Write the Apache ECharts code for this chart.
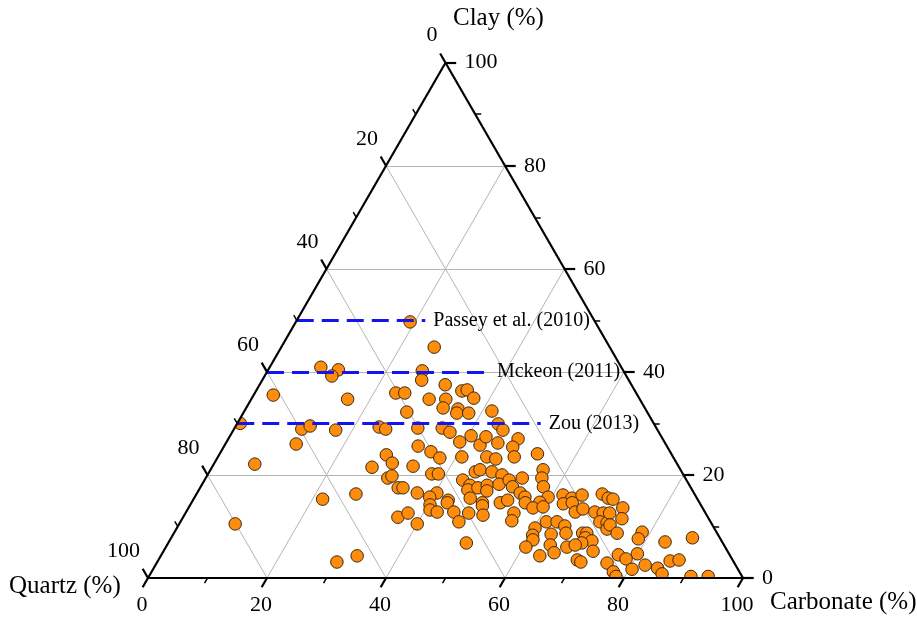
<!DOCTYPE html>
<html>
<head>
<meta charset="utf-8">
<script src="https://cdn.jsdelivr.net/npm/echarts@6/dist/echarts.min.js"></script>
<style>
  html, body { margin: 0; padding: 0; background: #ffffff; }
  #chart { width: 917px; height: 621px; }
</style>
</head>
<body>
<div id="chart"></div>
<script>
// Sample mineral compositions (%). Quartz is the remainder: 100 - carbonate - clay.
const carbonate = [
  19.2, 25.7, 8.6, 11.8, 11.3, 26.0, 26.8, 3.3, 16.2, 23.7,
  25.2, 31.2, 34.6, 35.4, 37.3, 29.9, 32.7, 33.1, 35.7, 35.9,
  37.9, 41.6, 27.4, 30.8, 34.9, 36.6, 43.9, 45.3, 0.5, 11.4,
  12.5, 17.2, 24.2, 25.5, 11.9, 28.1, 6.9, 9.4, 21.7, 26.8,
  30.2, 33.0, 26.9, 29.9, 30.6, 31.1, 33.3, 36.1, 32.6, 35.3,
  37.4, 39.2, 40.5, 42.9, 43.1, 45.7, 41.0, 45.2, 46.9, 33.7,
  37.6, 38.7, 44.7, 45.3, 47.5, 49.5, 43.4, 34.1, 37.0, 40.3,
  39.5, 42.9, 45.1, 45.2, 46.7, 48.0, 48.5, 49.9, 46.4, 48.9,
  51.9, 48.7, 48.6, 49.8, 53.4, 55.9, 56.5, 57.6, 53.2, 51.2,
  52.4, 54.3, 55.5, 59.4, 61.7, 63.5, 64.9, 68.2, 52.9, 58.5,
  69.6, 37.4, 40.0, 40.3, 40.8, 42.2, 43.0, 45.0, 46.8, 47.6,
  49.2, 50.2, 50.1, 56.1, 57.9, 59.5, 55.2, 55.6, 60.2, 60.5,
  61.0, 60.5, 61.5, 63.3, 65.0, 65.9, 63.5, 64.4, 63.7, 65.8,
  62.6, 64.0, 65.4, 66.4, 68.7, 70.2, 70.5, 71.8, 72.4, 68.7,
  69.4, 69.6, 71.0, 69.5, 72.2, 67.4, 68.6, 70.4, 71.2, 75.7,
  70.5, 71.3, 73.0, 73.9, 72.5, 74.5, 78.6, 78.6, 83.4, 87.6,
  76.8, 79.9, 78.5, 82.3, 80.5, 86.1, 87.5, 84.7, 86.0, 77.6,
  78.5, 91.1, 94.0
];
const clay = [
  49.7, 44.8, 40.9, 40.4, 39.2, 40.2, 38.4, 35.5, 34.7, 35.9,
  35.9, 37.5, 36.3, 36.5, 34.9, 34.7, 34.7, 33.0, 32.8, 32.0,
  32.0, 32.4, 32.2, 29.1, 29.1, 28.3, 29.9, 28.7, 30.0, 28.9,
  29.5, 28.7, 29.3, 28.9, 26.0, 23.9, 22.1, 10.5, 15.3, 16.3,
  3.1, 4.3, 21.5, 22.3, 19.4, 19.8, 17.5, 11.8, 25.6, 24.5,
  23.3, 26.4, 27.6, 25.8, 27.4, 26.2, 23.5, 23.5, 23.1, 21.7,
  20.2, 20.2, 20.6, 21.0, 20.6, 20.0, 19.0, 17.5, 16.5, 16.5,
  15.7, 15.1, 18.0, 17.1, 17.5, 18.0, 16.9, 18.2, 15.5, 14.6,
  14.6, 27.0, 25.4, 23.5, 24.1, 21.0, 19.4, 17.7, 19.4, 19.0,
  17.7, 16.5, 15.7, 15.7, 16.1, 15.5, 16.1, 16.3, 15.1, 14.7,
  15.5, 12.6, 10.5, 14.2, 13.2, 12.8, 14.6, 12.8, 10.9, 12.6,
  14.0, 12.2, 6.8, 14.6, 13.6, 13.8, 12.6, 11.1, 9.7, 8.3,
  7.4, 6.0, 10.9, 10.9, 10.1, 8.7, 8.5, 6.4, 4.3, 4.9,
  14.4, 14.6, 12.8, 13.4, 12.8, 12.6, 10.9, 10.7, 9.5, 8.7,
  8.7, 7.8, 7.2, 6.8, 5.2, 6.0, 6.4, 3.5, 3.1, 2.9,
  15.3, 12.6, 13.6, 11.5, 10.3, 8.7, 8.9, 7.6, 7.0, 7.8,
  4.5, 4.7, 3.7, 2.5, 1.7, 3.3, 3.5, 1.9, 0.8, 1.2,
  0.3, 0.3, 0.3
];

// Axis ticks (%)
const majorTicks = [0, 20, 40, 60, 80, 100];
const minorTicks = [10, 30, 50, 70, 90];
const gridLevels = [20, 40, 60, 80];

// Published clay cut-offs for shale reservoirs
const refNames = ['Passey et al. (2010)', 'Mckeon (2011)', 'Zou (2013)'];
const refClay = [50, 40, 30];
const refCarbonateEnd = [21.6, 37.3, 51.0];

// Ternary (carbonate, clay) -> cartesian; quartz corner at origin, carbonate corner at (100, 0)
const H = Math.sqrt(3) / 2;
const pt = (carb, cl) => [carb + cl / 2, cl * H];

const FONT = '"Times New Roman", "Liberation Serif", serif';
const MAJOR = 1.8, MINOR = 1.0;

// Grid lines parallel to each side
const gridSegs = [];
gridLevels.forEach(v => {
  gridSegs.push({ coords: [pt(0, v), pt(100 - v, v)] });       // constant clay
  gridSegs.push({ coords: [pt(v, 0), pt(v, 100 - v)] });       // constant carbonate
  gridSegs.push({ coords: [pt(100 - v, 0), pt(0, 100 - v)] }); // constant quartz
});

const edgeSegs = [
  { coords: [pt(0, 0), pt(100, 0)] },
  { coords: [pt(100, 0), pt(0, 100)] },
  { coords: [pt(0, 100), pt(0, 0)] }
];

function tickSegs(values, len) {
  const segs = [];
  values.forEach(v => {
    segs.push({ coords: [pt(v, 0), pt(v, -len)] });                       // carbonate (bottom)
    segs.push({ coords: [pt(100 - v, v), pt(100 - v + len, v)] });        // clay (right)
    segs.push({ coords: [pt(0, 100 - v), pt(-len, 100 - v + len)] });     // quartz (left)
  });
  return segs;
}

const refSegs = refClay.map((c, i) => ({ coords: [pt(0, c), pt(refCarbonateEnd[i], c)] }));

const samplePoints = carbonate.map((c, i) => pt(c, clay[i]));

function labelSeries(data, position, align, fontSize) {
  return {
    type: 'scatter', symbolSize: 0, clip: false, silent: true, z: 8,
    itemStyle: { opacity: 1 },
    data: data,
    label: {
      show: true, position: position, align: align, verticalAlign: 'middle',
      formatter: p => p.data[2],
      color: '#000', opacity: 1, fontFamily: FONT, fontSize: fontSize
    }
  };
}

const chart = echarts.init(document.getElementById('chart'), null, { renderer: 'canvas' });

chart.setOption({
  animation: false,
  backgroundColor: '#ffffff',
  grid: { left: 148, width: 595, top: 578 - 595 * H, height: 595 * H },
  xAxis: { type: 'value', min: 0, max: 100, show: false },
  yAxis: { type: 'value', min: 0, max: 100 * H, show: false },
  graphic: [
    { type: 'text', left: 453, top: 6, z: 100,
      style: { text: 'Clay (%)', font: '25px ' + FONT, fill: '#000' } },
    { type: 'text', left: 9, top: 574, z: 100,
      style: { text: 'Quartz (%)', font: '25px ' + FONT, fill: '#000' } },
    { type: 'text', left: 770, top: 590, z: 100,
      style: { text: 'Carbonate (%)', font: '25px ' + FONT, fill: '#000' } }
  ],
  series: [
    {
      type: 'lines', coordinateSystem: 'cartesian2d', silent: true, clip: false, z: 1,
      lineStyle: { color: '#b5b5b5', width: 1, opacity: 1 },
      data: gridSegs
    },
    {
      type: 'scatter', name: 'Samples', clip: false, z: 3,
      symbol: 'circle', symbolSize: 12.5,
      itemStyle: { color: '#ff8c0a', borderColor: '#3a2810', borderWidth: 1, opacity: 1 },
      data: samplePoints
    },
    {
      // white surround that trims markers at the triangle border
      type: 'custom', clip: false, silent: true, z: 4,
      data: [[0, 0]],
      renderItem: (params, api) => {
        const P = (x, y) => api.coord([x, y]);
        const top = 100 * H;
        return {
          type: 'group',
          children: [
            { type: 'polygon', shape: { points: [P(0, 0), P(50, top), P(-40, top), P(-40, 0)] }, style: { fill: '#fff' } },
            { type: 'polygon', shape: { points: [P(100, 0), P(50, top), P(140, top), P(140, 0)] }, style: { fill: '#fff' } },
            { type: 'polygon', shape: { points: [P(-40, 0), P(140, 0), P(140, -12), P(-40, -12)] }, style: { fill: '#fff' } }
          ]
        };
      }
    },
    {
      type: 'lines', coordinateSystem: 'cartesian2d', silent: true, clip: false, z: 6,
      lineStyle: { color: '#1414f0', width: 3.2, type: [17, 8], opacity: 1 },
      data: refSegs
    },
    {
      type: 'lines', coordinateSystem: 'cartesian2d', silent: true, clip: false, z: 7,
      lineStyle: { color: '#000', width: 2.2, opacity: 1 },
      data: edgeSegs.concat(tickSegs(majorTicks, MAJOR))
    },
    {
      type: 'lines', coordinateSystem: 'cartesian2d', silent: true, clip: false, z: 7,
      lineStyle: { color: '#000', width: 1.5, opacity: 1 },
      data: tickSegs(minorTicks, MINOR)
    },
    labelSeries(majorTicks.map(v => pt(v, 0).concat(String(v))), [-6, 27], 'center', 22),
    labelSeries(majorTicks.map(v => pt(100 - v, v).concat(String(v))), [19, 0], 'left', 22),
    labelSeries(majorTicks.map(v => pt(0, 100 - v).concat(String(v))), [-8, -27], 'right', 22),
    labelSeries(refClay.map((c, i) => pt(refCarbonateEnd[i], c).concat(refNames[i])), [8, 0], 'left', 20)
  ]
});
</script>
</body>
</html>
